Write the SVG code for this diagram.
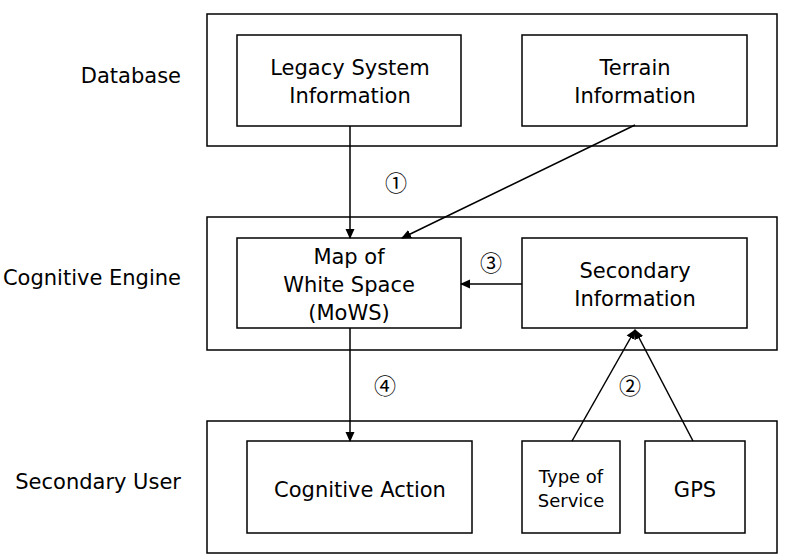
<svg xmlns="http://www.w3.org/2000/svg" width="785" height="560" viewBox="0 0 785 560">
<defs>
<marker id="ah" markerWidth="10" markerHeight="10" refX="9" refY="5" orient="auto" markerUnits="userSpaceOnUse">
<path d="M0,0.5 L10,5 L0,9.5 Z" fill="#000"/>
</marker>
<style>
rect{fill:#fff;stroke:#000;stroke-width:1.5}
text{font-family:"DejaVu Sans","Liberation Sans",sans-serif;font-size:21px;fill:#000}
.c{text-anchor:middle}
.r{text-anchor:end}
.s{font-size:18px}
.n{font-family:"Noto Sans CJK JP","DejaVu Sans",sans-serif;font-size:22px}
.cn{fill:none;stroke:#000;stroke-width:1.5;marker-end:url(#ah)}
</style>
</defs>
<rect width="785" height="560" style="stroke:none"/>
<g id="layer-labels">
<text class="r" x="181" y="83">Database</text>
<text class="r" x="181" y="285">Cognitive Engine</text>
<text class="r" x="181" y="489">Secondary User</text>
</g>
<g id="database">
<rect x="207" y="14" width="570" height="132"/>
</g>
<g id="cognitive-engine">
<rect x="207" y="217" width="570" height="133"/>
</g>
<g id="secondary-user">
<rect x="207" y="421" width="570" height="132"/>
</g>
<g id="legacy">
<rect x="237" y="35" width="224" height="91"/>
<text class="c" x="350" y="75">Legacy System</text>
<text class="c" x="350" y="103">Information</text>
</g>
<g id="terrain">
<rect x="522" y="35" width="225" height="91"/>
<text class="c" x="635" y="75">Terrain</text>
<text class="c" x="635" y="103">Information</text>
</g>
<g id="mows">
<rect x="237" y="238" width="224" height="90"/>
<text class="c" x="349" y="264">Map of</text>
<text class="c" x="349" y="292">White Space</text>
<text class="c" x="349" y="320">(MoWS)</text>
</g>
<g id="secondary-info">
<rect x="522" y="238" width="225" height="90"/>
<text class="c" x="635" y="278">Secondary</text>
<text class="c" x="635" y="306">Information</text>
</g>
<g id="cognitive-action">
<rect x="247" y="441" width="225" height="92"/>
<text class="c" x="360" y="497">Cognitive Action</text>
</g>
<g id="type-of-service">
<rect x="522" y="441" width="98" height="92"/>
<text class="c s" x="571" y="483">Type of</text>
<text class="c s" x="571" y="507">Service</text>
</g>
<g id="gps">
<rect x="645" y="441" width="100" height="92"/>
<text class="c" x="695" y="497">GPS</text>
</g>
<g id="connectors">
<path class="cn" d="M350,126 L350,238"/>
<path class="cn" d="M635,125 L402,238"/>
<path class="cn" d="M522,284 L461,284"/>
<path class="cn" d="M350,328 L350,441"/>
<path class="cn" d="M572,441 L635,330"/>
<path class="cn" d="M693,441 L635,330"/>
</g>
<g id="step-labels">
<text class="c n" x="396" y="191">①</text>
<text class="c n" x="491" y="271">③</text>
<text class="c n" x="630" y="394">②</text>
<text class="c n" x="385" y="394">④</text>
</g>
</svg>
